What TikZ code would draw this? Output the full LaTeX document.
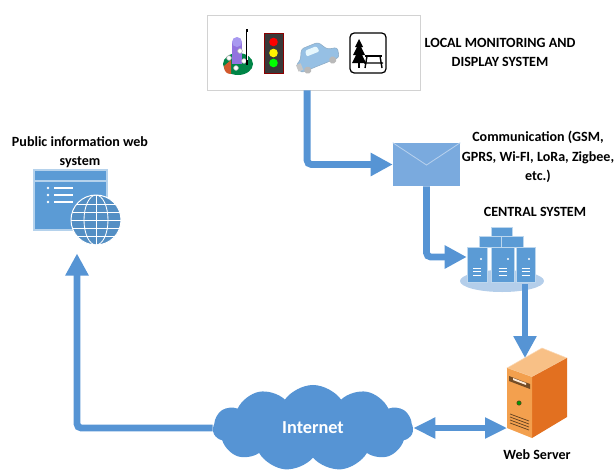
\documentclass[tikz,border=0pt]{standalone}
\usepackage{fontspec}
\setmainfont{Carlito}
\usetikzlibrary{arrows.meta,shapes.symbols,shadows,positioning}
\definecolor{flowblue}{RGB}{86,148,212}
\definecolor{envblue}{RGB}{122,170,222}
\definecolor{winblue}{RGB}{91,155,213}
\definecolor{baseblue}{RGB}{180,206,234}
\definecolor{srvfront}{RGB}{243,160,78}
\definecolor{srvside}{RGB}{226,112,32}
\definecolor{srvtopc}{RGB}{248,192,134}
\definecolor{carblue}{RGB}{150,192,228}
\begin{document}
\begin{tikzpicture}[x=0.025cm,y=0.025cm,
    flow/.style={draw=flowblue, line width=0.17cm, rounded corners=3pt,
        -{Triangle[length=0.55cm,width=0.55cm]}},
    lbl/.style={font=\bfseries\fontsize{10}{13.8}\selectfont, align=center, inner sep=0pt},
    hair/.style={white, line width=0.6pt}]
    \useasboundingbox (0,0) rectangle (616,470);

    % Local monitoring box with its four icons
    \node[draw=gray!35, fill=white, inner sep=0pt,
        drop shadow={opacity=0.2,shadow xshift=0.6pt,shadow yshift=-0.8pt},
        minimum width=5.325cm, minimum height=1.875cm] (monitor) at (313.5,417.5) {};
    % sensor station
    \fill[teal!70!green!80!black] (238,406) ellipse (15 and 11);
    \fill[brown!70!red] (224,404) .. controls (224,398) and (227,396) .. (231,396) -- (231,410) -- cycle;
    \fill[violet!45!blue!55] (232,406) rectangle (242,428);
    \fill[violet!30!blue!40] (237,428) circle (5);
    \foreach \p in {(240,419),(236,402),(244,409),(229,412)}
        \filldraw[fill=white, draw=gray!60] \p circle (2.4);
    \draw[line width=1.4pt] (247,441) -- (247,405);
    \draw[white, line width=0.4pt] (247.6,438) -- (247.6,410);
    % traffic light
    \filldraw[fill=gray!45!black, draw=red!55!black, line width=0.6pt] (264,397) rectangle (283,437);
    \foreach \y/\c in {428/red, 417/yellow, 407/green}
        \fill[\c] (273.5,\y) circle (4.3);
    % car
    \begin{scope}[rotate around={22:(316,414)}]
        \filldraw[fill=carblue, draw=carblue!70!gray, rounded corners=2pt]
            (296,404) -- (337,404) -- (339,414) -- (329,416) -- (323,426) -- (305,426) -- (300,416) -- (294,413) -- cycle;
        \fill[cyan!10!white, rounded corners=1pt] (307,417) -- (321,417) -- (320,423) -- (308,423) -- cycle;
        \fill[gray!55] (303,404) circle (3.6);
        \fill[gray!55] (330,404) circle (3.6);
        \fill[gray!45] (294,406) rectangle (299,413);
    \end{scope}
    % picnic sign
    \draw[line width=0.9pt, rounded corners=3pt] (350,397) rectangle (386,437);
    \fill (359,431) -- (363,423) -- (361,423) -- (365,415) -- (362,415) -- (366,407) -- (352,407)
        -- (356,415) -- (353,415) -- (357,423) -- (355,423) -- cycle;
    \draw[line width=1.2pt] (359,408) -- (359,402);
    \draw[line width=1.4pt] (365,414) -- (382,414);
    \draw[line width=1pt] (367,414) -- (365,402) (380,414) -- (382,402) (364,407) -- (383,407);
    \node[lbl] (monlbl) at (500,417.5) {LOCAL MONITORING AND\\DISPLAY SYSTEM};

    % Communication envelope
    \node[fill=envblue, minimum width=1.675cm, minimum height=1.075cm, inner sep=0pt] (envelope) at (426.5,305.5) {};
    \draw[envblue!55!white, line width=0.6pt] (envelope.north west) -- (426.5,305) -- (envelope.north east);
    \node[lbl] (commlbl) at (538,313) {Communication (GSM,\\GPRS, Wi-FI, LoRa, Zigbee,\\etc.)};

    % Central system: server cluster
    \node[lbl] (centlbl) at (535,258) {CENTRAL SYSTEM};
    \node[minimum width=1.7cm, minimum height=1.25cm, inner sep=0pt] (central) at (501,213) {};
    \fill[baseblue] (502,189) ellipse (42 and 11);
    \filldraw[fill=winblue, draw=winblue!40!white, line width=0.5pt] (491,234) rectangle (512,243);
    \filldraw[fill=winblue, draw=winblue!40!white, line width=0.5pt] (479,223) rectangle (523,234);
    \draw[winblue!40!white, line width=0.5pt] (501,223) -- (501,234);
    \foreach \x/\w in {467/20, 491/23, 516/19} {
        \filldraw[fill=winblue, draw=winblue!40!white, line width=0.5pt] (\x,188) rectangle ++(\w,35);
        \fill[white] ({\x+\w-6},211) circle (1.2);
        \foreach \yy in {195,198.5,202}
            \draw[hair] ({\x+\w/2-4},\yy) -- ++(8,0);
    }

    % Web server tower
    \filldraw[fill=srvtopc, draw=srvtopc!60!white, line width=0.4pt] (507,102) -- (542,122) -- (567,112) -- (532,93) -- cycle;
    \fill[srvside] (532,93) -- (567,112) -- (567,53) -- (532,32) -- cycle;
    \fill[srvfront] (507,102) -- (532,93) -- (532,32) -- (507,42) -- cycle;
    \fill[brown!60!black] (509,94) -- (530,86) -- (530,81) -- (509,89) -- cycle;
    \fill[white!85!orange] (513,92) -- (526,87) -- (526,85) -- (513,90) -- cycle;
    \filldraw[fill=green!60!black, draw=brown!50!black, line width=0.4pt] (519,67) circle (2.2);
    \foreach \d in {0,3,6,9}
        \draw[brown!50!black, line width=0.5pt] (510,{56-\d}) -- (529,{49-\d});
    \coordinate (srvtop) at (525,112);
    \coordinate (srvleft) at (507,40);
    \node[lbl] (srvlbl) at (537,15) {Web Server};

    % Internet cloud
    \node[cloud, cloud puffs=11, cloud puff arc=110, aspect=2.4, fill=flowblue,
        minimum width=5cm, minimum height=2.15cm, inner sep=0pt,
        font=\bfseries\fontsize{13}{15}\selectfont, text=white] (internet) at (313,42) {Internet};

    % Public information web system
    \node[lbl] (weblbl) at (80,318) {Public information web\\system};
    \filldraw[fill=winblue, draw=winblue!45!white, line width=0.8pt] (34,240) rectangle (107,300);
    \draw[winblue!45!white, line width=0.8pt] (34,289) -- (107,289);
    \foreach \y in {282,275,268} {
        \fill[white] (48,\y) circle (1.3);
        \draw[white, line width=1.3pt] (54,\y) -- (73,\y);
    }
    \node[circle, fill=winblue!92!black, draw=white, line width=0.7pt, minimum size=1.25cm, inner sep=0pt] (webinfo) at (96,250) {};
    \begin{scope}
        \clip (96,250) circle (25);
        \foreach \y in {-16,-8,0,8,16}
            \draw[hair] (71,{250+\y}) -- (121,{250+\y});
        \draw[hair] (96,225) -- (96,275);
        \draw[hair] (96,250) ellipse (12 and 25);
    \end{scope}

    % Data flow
    \draw[flow] ([xshift=-0.16cm]monitor.south) |- (envelope.west);
    \draw[flow] (envelope.south) |- (central.west);
    \draw[flow] ([yshift=-0.05cm]central.south -| srvtop) -- (srvtop);
    \draw[flow, line width=0.13cm, {Triangle[length=0.55cm,width=0.5cm]}-{Triangle[length=0.55cm,width=0.5cm]}]
        (internet.east) -- (internet.east -| srvleft);
    \draw[flow] (internet.west) -| ([xshift=-0.475cm,yshift=-0.2cm]webinfo.south);
\end{tikzpicture}
\end{document}
